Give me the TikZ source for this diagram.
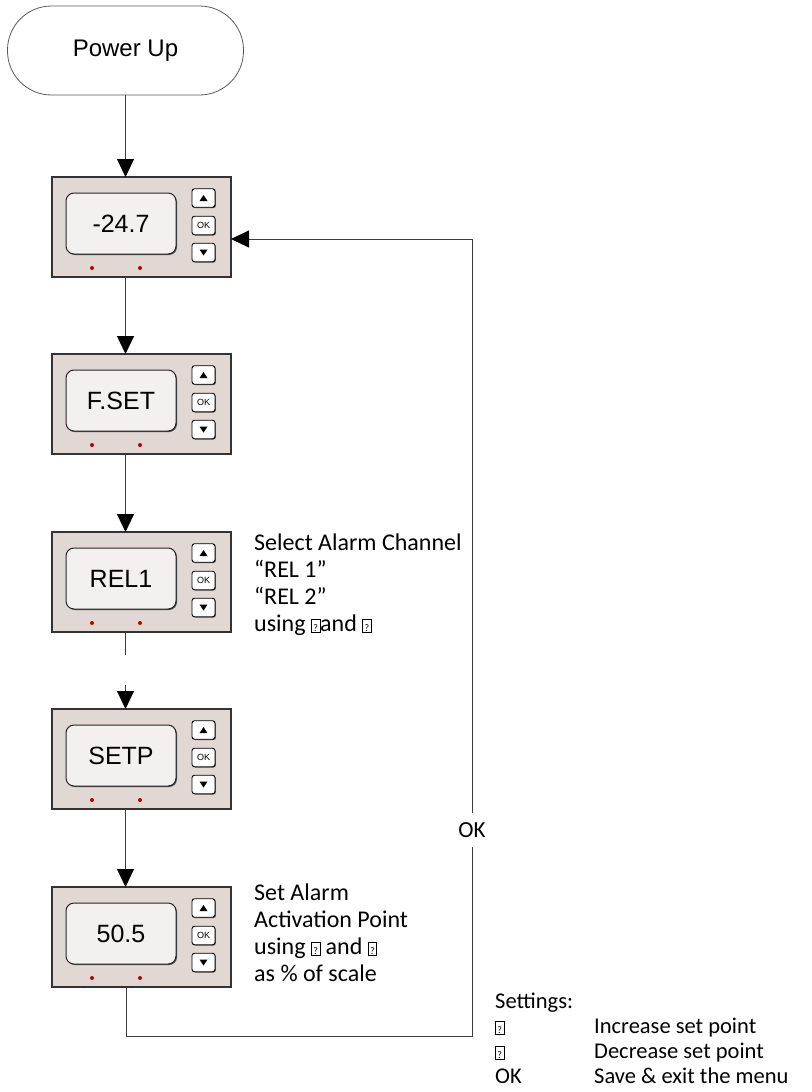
\documentclass[tikz,border=0pt]{standalone}
\usepackage{fontspec}
\setmainfont{Carlito}
\newfontfamily\arial{Liberation Sans}
\usetikzlibrary{arrows.meta,calc}
\definecolor{devfill}{RGB}{226,216,211}
\definecolor{dispfill}{RGB}{244,240,237}
\definecolor{lnc}{RGB}{60,60,60}
\newcommand\tofu{{\fboxsep=0pt\fboxrule=0.6pt\fbox{\makebox[8pt]{\rule[-1pt]{0pt}{13pt}\fontsize{10}{10}\selectfont ?}}}}
\newcommand\Device[4]{%
  \node[devbody] (#1) at (#2,#3) {};
  \node[disp] (#1-d) at ($(#1.north west)+(69,46.5)$) {#4};
  \node[btn] (#1-u) at ($(#1.north west)+(151.5,21)$) {};
  \node[btn,font=\arial\fontsize{9}{9}\selectfont] (#1-k) at ($(#1.north west)+(151.5,48.5)$) {OK};
  \node[btn] (#1-n) at ($(#1.north west)+(151.5,75.5)$) {};
  \fill ($(#1-u.center)+(-4,3)$) -- ++(8,0) -- ++(-4,-6) -- cycle;
  \fill ($(#1-n.center)+(-4,-3)$) -- ++(8,0) -- ++(-4,6) -- cycle;
  \fill[red!75!black] ($(#1.north west)+(40,91)$) circle (2pt);
  \fill[red!75!black] ($(#1.north west)+(88,91)$) circle (2pt);
}
\begin{document}
\begin{tikzpicture}[x=1pt,y=-1pt,
  conn/.style={draw=lnc,line width=1pt},
  arr/.style={conn,-{Triangle[length=18pt,width=17pt,color=black]}},
  devbody/.style={anchor=north west,draw=black!80,line width=1.1pt,fill=devfill,minimum width=179pt,minimum height=100pt,inner sep=0,outer sep=0},
  disp/.style={draw=black!85,line width=1pt,fill=dispfill,rounded corners=8pt,minimum width=110pt,minimum height=61pt,inner sep=0,
    preaction={fill=black!70,rounded corners=8pt,transform canvas={shift={(1pt,-1pt)}}},
    font=\arial\fontsize{25}{25}\selectfont},
  btn/.style={draw=black,line width=0.9pt,fill=white,rounded corners=2.5pt,minimum width=23pt,minimum height=18.5pt,inner sep=0,
    preaction={fill=black!70,rounded corners=2.5pt,transform canvas={shift={(0.8pt,-0.8pt)}}}},
  term/.style={draw=black!65,line width=0.8pt,rounded corners=44pt,minimum width=236pt,minimum height=89pt,inner sep=0,
    font=\arial\fontsize{24}{24}\selectfont},
  txt/.style={anchor=north west,align=left,inner sep=0,font=\fontsize{24}{27}\selectfont},
  legend/.style={anchor=north west,align=left,inner sep=0,font=\fontsize{22.5}{25}\selectfont},
  oklbl/.style={inner sep=0,minimum height=34pt,font=\fontsize{23}{23}\selectfont}
]
\useasboundingbox (0,0) rectangle (811,1092);

\node[term] (pu) at (125.5,50.5) {\raisebox{-2pt}{Power Up}};

\Device{d1}{52}{177}{-24.7}
\Device{d2}{52}{354}{F.SET}
\Device{d3}{52}{532}{REL1}
\Device{d4}{52}{709}{SETP}
\Device{d5}{52}{887}{50.5}

\draw[arr] (pu.south) -- (d1.north -| pu.south);
\draw[arr] (d1.south -| pu.south) -- (d2.north -| pu.south);
\draw[arr] (d2.south -| pu.south) -- (d3.north -| pu.south);
\draw[conn] (d3.south -| pu.south) -- ++(0,23);
\draw[arr] ($(d4.north -| pu.south)+(0,-24)$) -- (d4.north -| pu.south);
\draw[arr] (d4.south -| pu.south) -- (d5.north -| pu.south);

\node[oklbl] (ok) at (472,830) {OK};
\coordinate (bl) at (126,1036);
\coordinate (br) at (472,1036);
\coordinate (entry) at (231,239);
\draw[conn] (d5.south -| bl) -- (bl) -- (br) -- (ok.south);
\draw[arr] (ok.north) |- (entry);

\node[txt] (t1) at (254,533.5) {Select Alarm Channel\\“REL 1”\\“REL 2”\\using \tofu{}and \tofu};
\node[txt] (t2) at (254,883.5) {Set Alarm\\Activation Point\\using \tofu{} and \tofu\\as \% of scale};
\node[legend] (lg) at (495,992.5) {Settings:\\\makebox[99pt][l]{\tofu}Increase set point\\\makebox[99pt][l]{\tofu}Decrease set point\\\makebox[99pt][l]{OK}Save \& exit the menu};
\end{tikzpicture}
\end{document}
